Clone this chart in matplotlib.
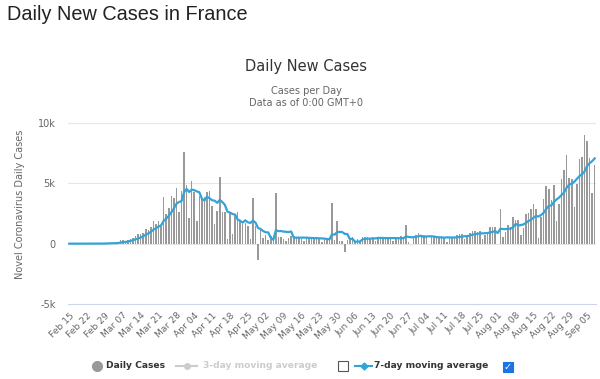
import numpy as np
import pandas as pd
import matplotlib
matplotlib.use("Agg")
import matplotlib.pyplot as plt
from matplotlib.lines import Line2D
from matplotlib.patches import Rectangle

# ---------------- data ----------------
start_date = "2020-02-15"
daily_cases = [
    # Feb 15 - Feb 29
    0, 0, 0, 0, 0, 0, 0, 0, 0, 0, 2, 4, 20, 19, 43,
    # Mar
    30, 61, 13, 81, 92, 276, 296, 177, 286, 372, 497, 595, 785, 838, 924,
    1210, 1097, 1404, 1861, 1617, 1847, 1559, 3838, 2446, 2931, 3922, 3809,
    4611, 2599, 4376, 7578,
    # Apr
    4861, 2116, 5233, 4267, 1873, 3912, 3777, 3881, 4286, 4342, 3114, 1613,
    2673, 5497, 2633, 2641, 405, 2569, 785, 2380, 2610, 1860, 1600, 1720,
    1440, 420, 3760, 1450, -1330, 1100,
    # May
    470, 750, 330, 670, 280, 4200, 560, 560, 390, 250, 450, 670, 610, 560,
    560, 390, 250, 460, 520, 560, 480, 530, 380, 120, 330, 300, 420, 3340,
    330, 1860, 250,
    # Jun
    200, -720, 330, 390, 580, 110, 350, 240, 520, 560, 590, 480, 430, 200,
    560, 500, 550, 480, 520, 440, 180, 500, 470, 600, 450, 1580, 120, 0,
    530, 720,
    # Jul
    890, 750, 700, 650, 0, 560, 570, 600, 590, 640, 540, 150, 540, 570, 530,
    750, 780, 760, 390, 600, 870, 1030, 1030, 1000, 1060, 370, 680, 1000,
    1390, 1380, 1350,
    # Aug
    0, 2840, 530, 950, 1580, 1390, 2220, 1950, 1950, 750, 1300, 2420, 2560,
    2840, 3250, 2890, 470, 2240, 3740, 4750, 4550, 3580, 4870, 1900, 3280,
    5390, 6100, 7360, 5420, 5350, 3000,
    # Sep 1 - Sep 8
    4950, 7010, 7150, 8975, 8540, 7070, 4190, 6520,
]

tick_labels = ["Feb 15", "Feb 22", "Feb 29", "Mar 07", "Mar 14", "Mar 21",
               "Mar 28", "Apr 04", "Apr 11", "Apr 18", "Apr 25", "May 02",
               "May 09", "May 16", "May 23", "May 30", "Jun 06", "Jun 13",
               "Jun 20", "Jun 27", "Jul 04", "Jul 11", "Jul 18", "Jul 25",
               "Aug 01", "Aug 08", "Aug 15", "Aug 22", "Aug 29", "Sep 05"]

y_ticks = [-5000, 0, 5000, 10000]
y_tick_labels = ["-5k", "0", "5k", "10k"]

dates = pd.date_range(start_date, periods=len(daily_cases), freq="D")
date_labels = [d.strftime("%b %d") for d in dates]
x = np.arange(len(daily_cases))
ma7 = pd.Series(daily_cases, dtype=float).rolling(7, min_periods=1).mean()

# ---------------- figure ----------------
W, H = 600, 379
fig = plt.figure(figsize=(W / 100, H / 100), dpi=100)
fig.patch.set_facecolor("white")

def fx(px):
    return px / W

def fy(py):
    return 1 - py / H

ax_left, ax_right, ax_top, ax_bottom = 68, 596, 123, 304
ax = fig.add_axes([fx(ax_left), fy(ax_bottom), (ax_right - ax_left) / W,
                   (ax_bottom - ax_top) / H])

bar_color = "#999999"
line_color = "#34a3d8"

ax.bar(x, daily_cases, width=0.6, color=bar_color, zorder=2, linewidth=0)
ax.plot(x, ma7, color=line_color, linewidth=1.6, zorder=3)

ax.set_xlim(-0.5, len(daily_cases) - 0.5)
ax.set_ylim(-5000, 10000)

for v in [0, 5000, 10000]:
    ax.axhline(v, color="#e6e6e6", linewidth=0.8, zorder=1)

for s in ["top", "right", "left"]:
    ax.spines[s].set_visible(False)
ax.spines["bottom"].set_color("#ccd6eb")
ax.spines["bottom"].set_linewidth(0.8)

ax.set_yticks(y_ticks)
ax.set_yticklabels(y_tick_labels)
ax.tick_params(axis="y", length=0, pad=9, labelsize=7, labelcolor="#666666")

tick_pos = [date_labels.index(lbl) for lbl in tick_labels]
ax.set_xticks(tick_pos)
ax.set_xticklabels(tick_labels, rotation=45, ha="right",
                   rotation_mode="anchor")
ax.tick_params(axis="x", length=0, pad=5, labelsize=6.6, labelcolor="#666666")
for t in ax.get_xticklabels() + ax.get_yticklabels():
    t.set_family("DejaVu Sans")

ax.set_ylabel("Novel Coronavirus Daily Cases", fontsize=7, color="#666666")
ax.yaxis.set_label_coords(-(68 - 25) / (ax_right - ax_left), 0.55)

# ---------------- titles ----------------
fig.text(fx(7), fy(15), "Daily New Cases in France", fontsize=14.3,
         family="Liberation Sans", color="#222222", ha="left", va="center")
fig.text(fx(306), fy(66), "Daily New Cases", fontsize=10.5,
         family="DejaVu Sans", color="#333333", ha="center", va="center")
fig.text(fx(306), fy(91), "Cases per Day", fontsize=7,
         family="DejaVu Sans", color="#666666", ha="center", va="center")
fig.text(fx(306), fy(103), "Data as of 0:00 GMT+0", fontsize=7,
         family="DejaVu Sans", color="#666666", ha="center", va="center")

# ---------------- legend ----------------
ly = 366
fs_leg = 6.6
fig.add_artist(Line2D([fx(97)], [fy(ly)], marker="o", markersize=7,
                      color=bar_color, transform=fig.transFigure))
fig.text(fx(106), fy(ly), "Daily Cases", fontsize=fs_leg, fontweight="bold",
         color="#333333", ha="left", va="center", family="DejaVu Sans")

fig.add_artist(Line2D([fx(176), fx(197)], [fy(ly), fy(ly)], color="#cccccc",
                      linewidth=1.5, transform=fig.transFigure))
fig.add_artist(Line2D([fx(186.5)], [fy(ly)], marker="o", markersize=4,
                      color="#cccccc", transform=fig.transFigure))
fig.text(fx(203), fy(ly), "3-day moving average", fontsize=fs_leg,
         fontweight="bold", color="#cccccc", ha="left", va="center",
         family="DejaVu Sans")
fig.add_artist(Rectangle((fx(338), fy(371)), 10 / W, 10 / H,
                         transform=fig.transFigure, facecolor="white",
                         edgecolor="#555555", linewidth=0.8))

fig.add_artist(Line2D([fx(355), fx(372)], [fy(ly), fy(ly)], color=line_color,
                      linewidth=1.5, transform=fig.transFigure))
fig.add_artist(Line2D([fx(363.5)], [fy(ly)], marker="D", markersize=3.5,
                      color=line_color, transform=fig.transFigure))
fig.text(fx(374), fy(ly), "7-day moving average", fontsize=fs_leg,
         fontweight="bold", color="#333333", ha="left", va="center",
         family="DejaVu Sans")
fig.add_artist(Rectangle((fx(503), fy(372)), 10 / W, 10 / H,
                         transform=fig.transFigure, facecolor="#1a73e8",
                         edgecolor="#1a73e8", linewidth=0.8))
fig.text(fx(508), fy(367), "\u2713", fontsize=7, color="white",
         fontweight="bold", ha="center", va="center", family="DejaVu Sans")

fig.savefig("out.png", dpi=100, facecolor="white")
